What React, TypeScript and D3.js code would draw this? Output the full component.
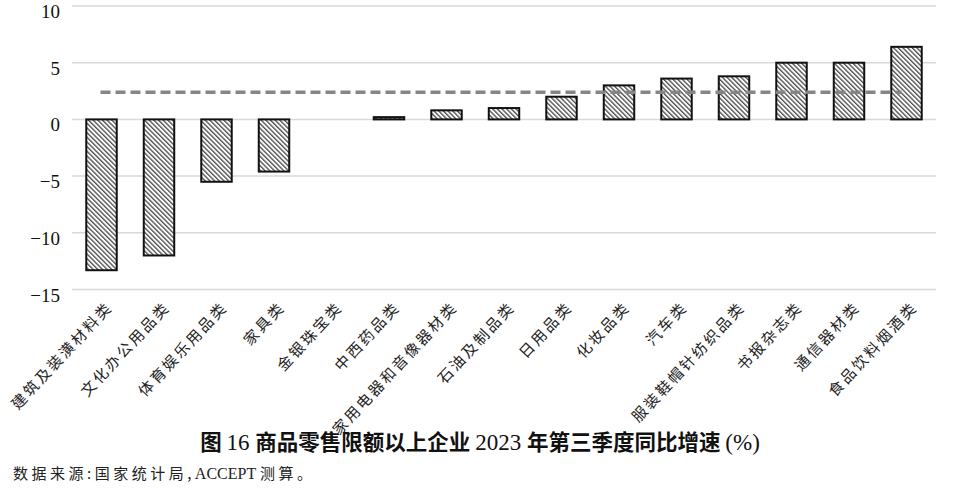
import { useRef, useEffect } from 'react';
import * as d3 from 'd3';

const categories = [
  '建筑及装潢材料类', '文化办公用品类', '体育娱乐用品类', '家具类', '金银珠宝类',
  '中西药品类', '家用电器和音像器材类', '石油及制品类', '日用品类', '化妆品类',
  '汽车类', '服装鞋帽针纺织品类', '书报杂志类', '通信器材类', '食品饮料烟酒类',
];
const growth = [-13.3, -12.0, -5.5, -4.6, 0, 0.2, 0.8, 1.0, 2.0, 3.0, 3.6, 3.8, 5.0, 5.0, 6.4];
const average = 2.4;
const yTicks = [10, 5, 0, -5, -10, -15];

const titleParts: { t: string; num: boolean }[] = [
  { t: '图 ', num: false }, { t: '16 ', num: true }, { t: '商品零售限额以上企业 ', num: false },
  { t: '2023 ', num: true }, { t: '年第三季度同比增速 ', num: false }, { t: '(%)', num: true },
];
const sourceParts: { t: string; latin: boolean }[] = [
  { t: '数据来源:国家统计局,', latin: false }, { t: 'ACCEPT ', latin: true }, { t: '测算。', latin: false },
];

const SERIF = "'Liberation Serif', 'DejaVu Serif', serif";
const CJK = "'Noto Sans CJK SC', sans-serif";

export default function App() {
  const svgRef = useRef<SVGSVGElement>(null);

  useEffect(() => {
    if (!svgRef.current) return;
    const svg = d3.select(svgRef.current);
    svg.selectAll('*').remove();

    const x = d3.scaleBand<string>()
      .domain(categories)
      .range([72.75, 935.25])
      .paddingInner(0.47)
      .paddingOuter(0.235);

    const y = d3.scaleLinear().domain([-15, 10]).range([289.5, 6]);

    // hatch pattern
    const defs = svg.append('defs');
    const pat = defs.append('pattern')
      .attr('id', 'hatch')
      .attr('patternUnits', 'userSpaceOnUse')
      .attr('width', 3.3)
      .attr('height', 3.3)
      .attr('patternTransform', 'rotate(-45)');
    pat.append('rect').attr('width', 3.3).attr('height', 3.3).attr('fill', '#ffffff');
    pat.append('line')
      .attr('x1', 0.7).attr('y1', 0).attr('x2', 0.7).attr('y2', 3.3)
      .attr('stroke', '#555').attr('stroke-width', 1.4);

    // grid
    svg.append('g')
      .selectAll('line')
      .data(yTicks)
      .join('line')
      .attr('x1', 72)
      .attr('x2', 936)
      .attr('y1', d => y(d))
      .attr('y2', d => y(d))
      .attr('stroke', '#d9d9d9')
      .attr('stroke-width', 1.5);

    // y labels
    svg.append('g')
      .selectAll('text')
      .data(yTicks)
      .join('text')
      .attr('x', 60)
      .attr('y', d => y(d) + 12)
      .attr('text-anchor', 'end')
      .attr('font-family', SERIF)
      .attr('font-size', 19)
      .attr('fill', '#111')
      .text(d => (d < 0 ? '\u2212' + Math.abs(d) : String(d)));

    // bars
    const bw = x.bandwidth();
    svg.append('g')
      .selectAll('rect')
      .data(categories.map((c, i) => ({ c, v: growth[i] })).filter(d => d.v !== 0))
      .join('rect')
      .attr('x', d => x(d.c)!)
      .attr('y', d => y(Math.max(0, d.v)))
      .attr('width', bw)
      .attr('height', d => Math.abs(y(d.v) - y(0)))
      .attr('fill', 'url(#hatch)')
      .attr('stroke', '#111')
      .attr('stroke-width', 2);

    // average dashed line
    svg.append('line')
      .attr('x1', x(categories[0])! + bw / 2 - 1)
      .attr('x2', x(categories[categories.length - 1])! + bw / 2 - 5)
      .attr('y1', y(average))
      .attr('y2', y(average))
      .attr('stroke', '#858585')
      .attr('stroke-width', 3.5)
      .attr('stroke-dasharray', '10,5');

    // category labels
    svg.append('g')
      .selectAll('text')
      .data(categories)
      .join('text')
      .attr('transform', d => `translate(${x(d)! + bw / 2 + 12},308) rotate(-47)`)
      .attr('text-anchor', 'end')
      .attr('font-family', CJK)
      .attr('font-size', 15)
      .attr('letter-spacing', 2.5)
      .attr('fill', '#222')
      .text(d => d);

    // title
    const title = svg.append('text')
      .attr('x', 480)
      .attr('y', 450)
      .attr('text-anchor', 'middle')
      .attr('fill', '#111');
    titleParts.forEach(p => {
      title.append('tspan')
        .attr('font-family', p.num ? SERIF : CJK)
        .attr('font-weight', p.num ? 'normal' : 'bold')
        .attr('font-size', p.num ? 23 : 21.5)
        .text(p.t);
    });

    // source
    const src = svg.append('text')
      .attr('x', 13)
      .attr('y', 479)
      .attr('font-size', 15)
      .attr('fill', '#222');
    sourceParts.forEach(p => {
      src.append('tspan')
        .attr('font-family', p.latin ? SERIF : CJK)
        .attr('letter-spacing', p.latin ? 0 : 3.5)
        .attr('font-size', p.latin ? 16 : 15)
        .text(p.t);
    });
  }, []);

  return (
    <div style={{ position: 'absolute', left: 0, top: 0, width: 958, height: 494, background: '#fff' }}>
      <svg ref={svgRef} width={958} height={494} style={{ display: 'block' }} />
    </div>
  );
}
